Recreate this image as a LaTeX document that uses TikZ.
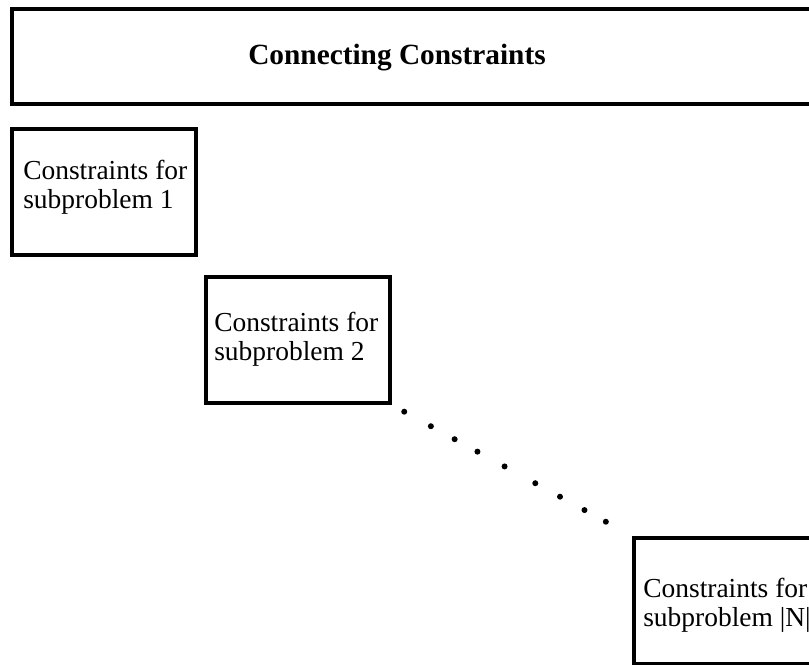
\documentclass[tikz,border=0pt]{standalone}
\usepackage{fontspec}
\setmainfont{Liberation Serif}
\usetikzlibrary{calc}

\tikzset{
  cbox/.style={draw, line width=3pt, rectangle, inner sep=0pt, anchor=north west},
  subbox/.style={cbox, minimum width=138pt, minimum height=94.5pt},
  subtext/.style={anchor=north west, inner sep=0pt, align=left,
    font=\fontsize{20.6pt}{21.75pt}\selectfont}
}

\begin{document}
\begin{tikzpicture}[x=0.75pt, y=-0.75pt]
\useasboundingbox (0,0) rectangle (809,664);
\clip (0,0) rectangle (809,664);

% Top box
\node[cbox, minimum width=613.5pt, minimum height=71.25pt] (conn) at (10,7) {};
\node[font=\bfseries\fontsize{22pt}{24pt}\selectfont] (conntext) at (397,58) {Connecting Constraints};

% Subproblem boxes
\foreach \name/\x/\y/\tx/\ty/\lbl in {
  sub1/10/127/23/160/1,
  sub2/204/275/214/312/2,
  subN/632/536/643/578/|N|
} {
  \node[subbox] (\name) at (\x,\y) {};
  \node[subtext] (\name text) at (\tx,\ty) {Constraints for\\subproblem \lbl};
}

% Dots between box 2 and box N
\foreach \t in {0.051,0.162,0.261,0.356,0.469,0.597,0.700,0.802,0.891}
  \fill ($(sub2.south east)!\t!(subN.north west)$) circle (3);
\end{tikzpicture}
\end{document}
